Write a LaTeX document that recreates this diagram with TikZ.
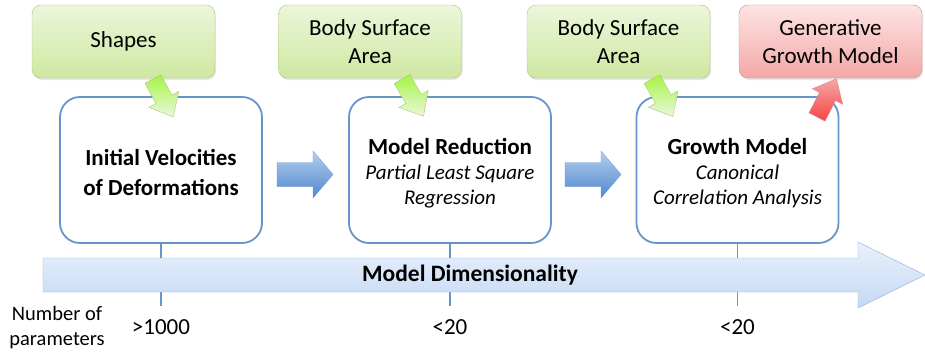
\documentclass[tikz,border=0pt]{standalone}
\usepackage{fontspec}
\setmainfont{Carlito}
\usetikzlibrary{shadows}
\definecolor{StageLine}{HTML}{6894CC}
\definecolor{InputTop}{HTML}{ECF6DC}
\definecolor{InputBottom}{HTML}{CFE8A0}
\definecolor{InputLine}{HTML}{A9C97A}
\definecolor{OutputTop}{HTML}{FDE4E4}
\definecolor{OutputBottom}{HTML}{F3A8A6}
\definecolor{OutputLine}{HTML}{D98E8C}
\definecolor{AxisTop}{HTML}{E9F1FC}
\definecolor{AxisBottom}{HTML}{C5D9F3}
\definecolor{AxisLine}{HTML}{8DB0DD}
\definecolor{FlowTop}{HTML}{B5CFEF}
\definecolor{FlowBottom}{HTML}{4F86CD}

\tikzset{
  inputbox/.style={draw=InputLine, top color=InputTop, bottom color=InputBottom,
    rounded corners=9pt, minimum width=183pt, minimum height=73pt, align=center,
    font=\fontsize{23}{28}\selectfont,
    drop shadow={opacity=0.2, shadow xshift=1pt, shadow yshift=-2pt}},
  outputbox/.style={inputbox, draw=OutputLine, top color=OutputTop, bottom color=OutputBottom},
  stagebox/.style={draw=StageLine, line width=1.8pt, fill=white, rounded corners=20pt,
    minimum width=202pt, minimum height=146pt},
  stagetext/.style={align=center, font=\fontsize{21}{25}\selectfont},
  tick/.style={StageLine, line width=1.8pt},
  countlabel/.style={font=\fontsize{23}{26}\selectfont}
}

\begin{document}
\begin{tikzpicture}[x=1pt,y=-1pt]
  \useasboundingbox (0,0) rectangle (925,353);

  % inputs and output
  \node[inputbox] (shapes) at (123.5,41.5) {Shapes};
  \node[inputbox] (bsa1) at (370,41.5) {Body Surface\\Area};
  \node[inputbox] (bsa2) at (618.5,41.5) {Body Surface\\Area};
  \node[outputbox] (gen) at (830.5,41.5) {Generative\\Growth Model};

  % ticks behind the axis
  \coordinate (t1) at (161,306);
  \coordinate (t2) at (450,306);
  \coordinate (t3) at (737.5,306);
  \draw[tick] (161,243) -- (t1);
  \draw[tick] (450,243) -- (t2);
  \draw[tick] (737.5,243) -- (t3);

  % stages
  \node[stagebox] (init) at (161,170) {};
  \node[stagebox] (red) at (450,170) {};
  \node[stagebox] (grow) at (737.5,170) {};
  \node[stagetext, font=\bfseries\fontsize{23}{30}\selectfont] (initt) at (161,172) {Initial Velocities\\of Deformations};
  \node[stagetext] (redt) at (450,173) {\textbf{\fontsize{23}{25}\selectfont Model Reduction}\\\textit{Partial Least Square}\\\textit{Regression}};
  \node[stagetext] (growt) at (737.5,173) {\textbf{\fontsize{23}{25}\selectfont Growth Model}\\\textit{Canonical}\\\textit{Correlation Analysis}};

  % axis arrow
  \shade[draw=AxisLine, top color=AxisTop, bottom color=AxisBottom]
    (43,258) -- (858,258) -- (858,242) -- (925,275) -- (858,308) -- (858,292) -- (43,292) -- cycle;
  \node[font=\bfseries\fontsize{23.5}{26}\selectfont] (dim) at (470,275) {Model Dimensionality};

  % flow arrows between stages
  \foreach \x in {277,565} {
    \shade[top color=FlowTop, bottom color=FlowBottom, draw=FlowBottom!80]
      (\x,162.5) -- (\x+36,162.5) -- (\x+36,151) -- (\x+56,174.5) -- (\x+36,198) -- (\x+36,186.5) -- (\x,186.5) -- cycle;
  }

  % input and output arrows
  \foreach \x/\a in {153/-62, 402/-60, 652/-61} {
    \shade[top color=InputBottom!70!green!60!lime, bottom color=InputTop, draw=InputLine,
      shift={(\x,79)}, rotate=\a]
      (0,-9) -- (23,-9) -- (23,-17) -- (43,0) -- (23,17) -- (23,9) -- (0,9) -- cycle;
  }
  \shade[top color=OutputBottom, bottom color=red!60!OutputBottom, draw=OutputLine,
    shift={(817,117)}, rotate=63]
    (0,-9) -- (23,-9) -- (23,-17) -- (43,0) -- (23,17) -- (23,9) -- (0,9) -- cycle;

  % parameter counts
  \node[align=center, font=\fontsize{20.5}{25}\selectfont] (nparam) at (57,328) {Number of\\parameters};
  \node[countlabel] (c1) at (161,327) {>1000};
  \node[countlabel] (c2) at (450,327) {<20};
  \node[countlabel] (c3) at (737.5,327) {<20};
\end{tikzpicture}
\end{document}
